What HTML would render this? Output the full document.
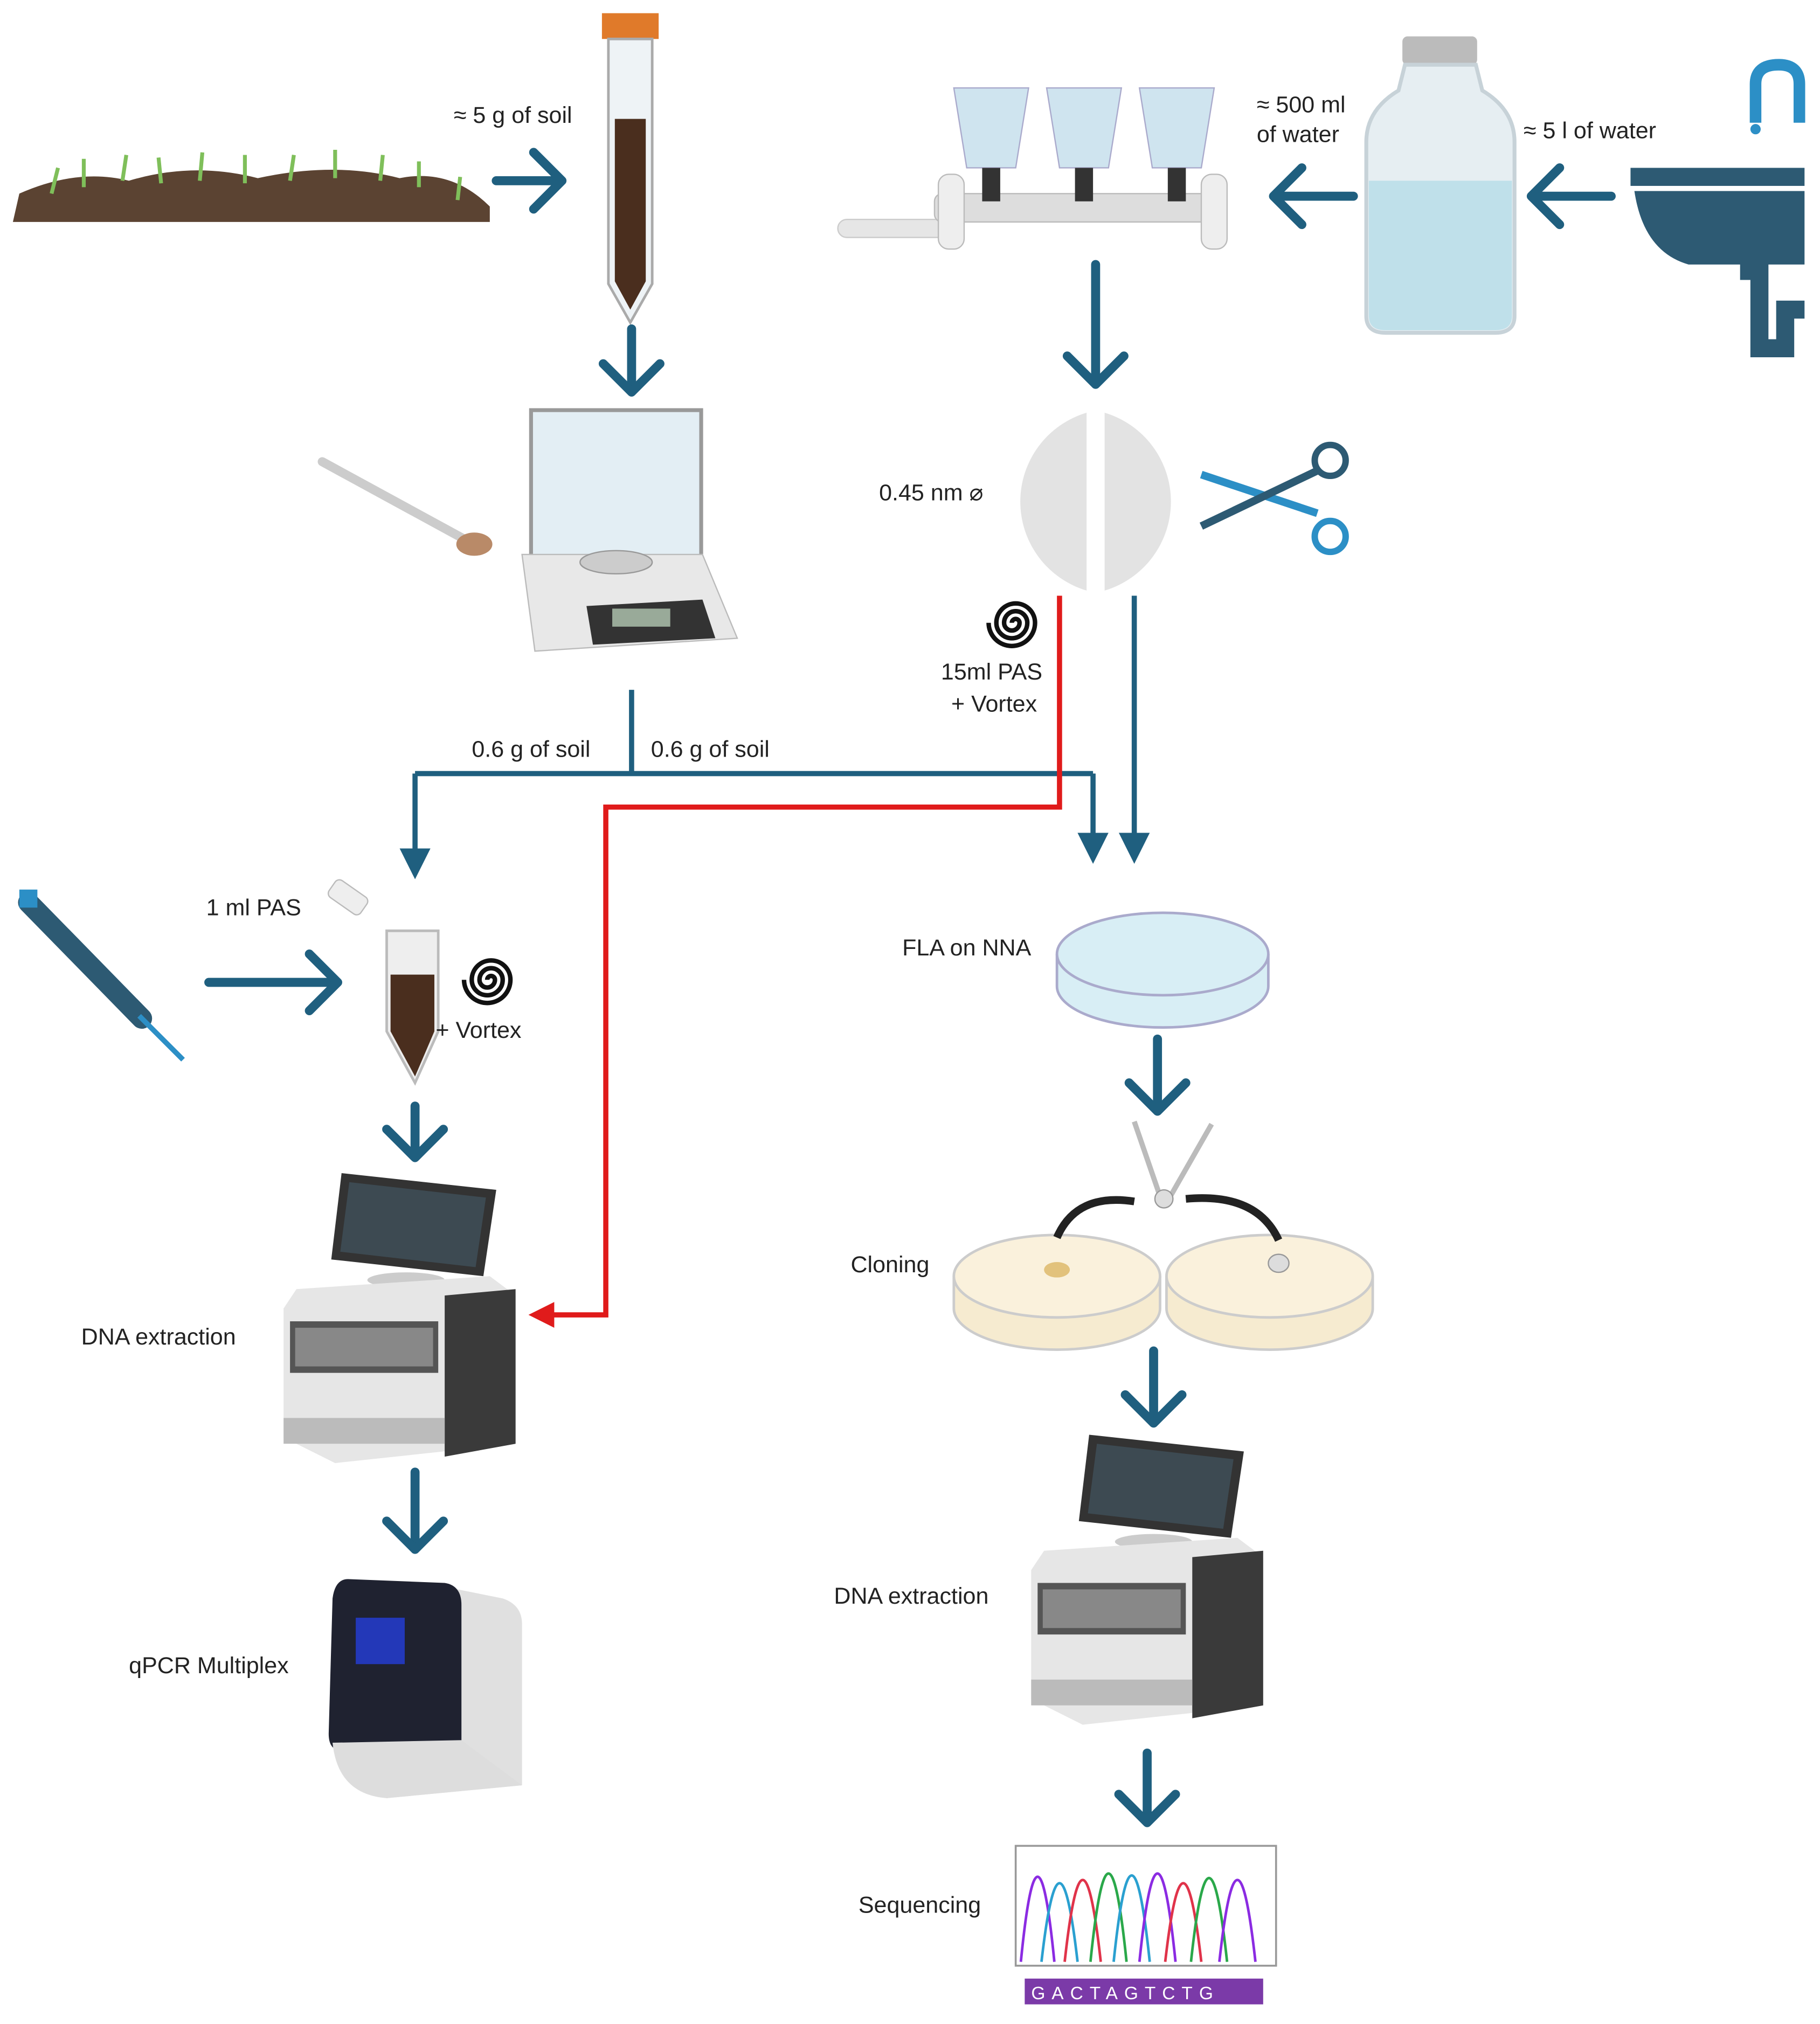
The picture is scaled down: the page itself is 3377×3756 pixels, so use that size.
<!DOCTYPE html>
<html><head><meta charset="utf-8"><style>
html,body{margin:0;padding:0;background:#fff;}
svg{display:block;}
text{font-family:"Liberation Sans",sans-serif;font-size:18px;fill:#222;}
</style></head><body>
<svg width="3377" height="3756" viewBox="0 0 1412 1570" xmlns="http://www.w3.org/2000/svg">
<defs>
<marker id="tb" markerWidth="6" markerHeight="6" refX="5" refY="3" orient="auto" markerUnits="strokeWidth"><path d="M0,0 L6,3 L0,6 z" fill="#1f5f7f"/></marker>
<marker id="tr" markerWidth="5" markerHeight="5" refX="4" refY="2.5" orient="auto" markerUnits="strokeWidth"><path d="M0,0 L5,2.5 L0,5 z" fill="#e01b1b"/></marker>
<g id="machine">
<polygon points="50,5 170,18 160,85 42,72" fill="#333"/>
<polygon points="56,12 162,24 154,78 49,66" fill="#3d4a52"/>
<ellipse cx="100" cy="88" rx="30" ry="6" fill="#ccc"/>
<path d="M15,95 L165,85 L185,100 L185,215 L45,230 L5,210 L5,110 z" fill="#e6e6e6"/>
<path d="M130,100 L185,95 L185,215 L130,225 z" fill="#3a3a3a"/>
<rect x="10" y="120" width="115" height="40" fill="#555"/>
<rect x="14" y="125" width="107" height="30" fill="#888"/>
<rect x="5" y="195" width="125" height="20" fill="#bbb"/>
</g>
<g id="chev"><polyline points="-22,-22 0,0 22,-22" fill="none" stroke="#1f5f7f" stroke-width="7" stroke-linecap="round" stroke-linejoin="round"/></g>
</defs>

<path d="M10,172 L15,150 Q60,130 100,140 Q150,125 200,138 Q260,125 310,138 Q350,130 380,160 L380,172 z" fill="#5b4332"/>
<g stroke="#7fbf5a" stroke-width="3" fill="none">
<path d="M40,150 l5,-20 M65,145 l0,-22 M95,140 l3,-20 M125,142 l-2,-20 M155,140 l2,-22 M190,142 l0,-22 M225,140 l3,-20 M260,138 l0,-22 M295,140 l2,-20 M325,145 l0,-20 M355,155 l2,-18"/>
</g>
<text x="352" y="95">≈ 5 g of soil</text>
<line x1="385" y1="140" x2="432" y2="140" stroke="#1f5f7f" stroke-width="7" stroke-linecap="round"/>
<use href="#chev" transform="translate(436,140) rotate(-90)"/>
<rect x="467" y="10" width="44" height="20" fill="#e07a2a"/>
<path d="M472,30 L506,30 L506,220 L489,250 L472,220 z" fill="#eef3f6" stroke="#aaa" stroke-width="2"/>
<path d="M477,92 L501,92 L501,218 L489,240 L477,218 z" fill="#4a2e1e"/>
<line x1="490" y1="255" x2="490" y2="302" stroke="#1f5f7f" stroke-width="7" stroke-linecap="round"/>
<use href="#chev" transform="translate(490,304)"/>
<line x1="250" y1="358" x2="360" y2="418" stroke="#ccc" stroke-width="7" stroke-linecap="round"/>
<ellipse cx="368" cy="422" rx="14" ry="9" fill="#b98a68"/>
<rect x="412" y="318" width="132" height="120" fill="#e3eef4" stroke="#999" stroke-width="3"/>
<path d="M405,430 L545,430 L572,495 L415,505 z" fill="#e8e8e8" stroke="#bbb"/>
<ellipse cx="478" cy="436" rx="28" ry="9" fill="#ccc" stroke="#999"/>
<polygon points="455,470 545,465 555,495 460,500" fill="#333"/>
<rect x="475" y="472" width="45" height="14" fill="#9a9"/>
<polyline points="490,535 490,600" fill="none" stroke="#1f5f7f" stroke-width="4"/>
<polyline points="322,600 848,600" fill="none" stroke="#1f5f7f" stroke-width="4"/>
<line x1="322" y1="600" x2="322" y2="678" stroke="#1f5f7f" stroke-width="4" marker-end="url(#tb)"/>
<line x1="848" y1="600" x2="848" y2="666" stroke="#1f5f7f" stroke-width="4" marker-end="url(#tb)"/>
<line x1="880" y1="462" x2="880" y2="666" stroke="#1f5f7f" stroke-width="4" marker-end="url(#tb)"/>
<text x="366" y="587">0.6 g of soil</text>
<text x="505" y="587">0.6 g of soil</text>
<polyline points="822,462 822,626 470,626 470,1020 425,1020" fill="none" stroke="#e01b1b" stroke-width="4"/>
<line x1="430" y1="1020" x2="414" y2="1020" stroke="#e01b1b" stroke-width="4" marker-end="url(#tr)"/>
<rect x="650" y="170" width="85" height="14" rx="7" fill="#e6e6e6" stroke="#ccc"/>
<rect x="725" y="150" width="225" height="22" rx="6" fill="#ddd" stroke="#bbb"/>
<rect x="728" y="135" width="20" height="58" rx="8" fill="#eee" stroke="#bbb"/>
<rect x="932" y="135" width="20" height="58" rx="8" fill="#eee" stroke="#bbb"/>
<g fill="#cfe4ef" stroke="#aac">
<path d="M740,68 L798,68 L788,130 L750,130 z"/><path d="M812,68 L870,68 L860,130 L822,130 z"/><path d="M884,68 L942,68 L932,130 L894,130 z"/>
</g>
<rect x="762" y="130" width="14" height="26" fill="#333"/><rect x="834" y="130" width="14" height="26" fill="#333"/><rect x="906" y="130" width="14" height="26" fill="#333"/>
<text x="975" y="87">≈ 500 ml</text><text x="975" y="110">of water</text>
<line x1="1050" y1="152" x2="992" y2="152" stroke="#1f5f7f" stroke-width="7" stroke-linecap="round"/>
<use href="#chev" transform="translate(988,152) rotate(90)"/>
<rect x="1088" y="28" width="58" height="22" rx="4" fill="#bbb"/>
<path d="M1090,50 L1145,50 L1150,70 Q1175,85 1175,110 L1175,245 Q1175,258 1160,258 L1075,258 Q1060,258 1060,245 L1060,110 Q1060,85 1085,70 z" fill="#e6eef2" stroke="#c7d2d8" stroke-width="3"/>
<path d="M1062,140 L1173,140 L1173,245 Q1173,256 1160,256 L1075,256 Q1062,256 1062,245 z" fill="#bfe0ea"/>
<text x="1182" y="107">≈ 5 l of water</text>
<line x1="1250" y1="152" x2="1192" y2="152" stroke="#1f5f7f" stroke-width="7" stroke-linecap="round"/>
<use href="#chev" transform="translate(1188,152) rotate(90)"/>
<path d="M1362,95 L1362,65 Q1362,50 1380,50 Q1396,50 1396,65 L1396,95" fill="none" stroke="#2c8fc6" stroke-width="9"/>
<circle cx="1362" cy="100" r="4" fill="#2c8fc6"/>
<rect x="1265" y="130" width="135" height="14" fill="#2d5a73"/>
<path d="M1268,148 L1400,148 L1400,205 L1310,205 Q1275,195 1268,148 z" fill="#2d5a73"/>
<path d="M1350,210 L1365,210 L1365,270 L1385,270 L1385,240 L1400,240" fill="none" stroke="#2d5a73" stroke-width="14"/>
<line x1="850" y1="205" x2="850" y2="296" stroke="#1f5f7f" stroke-width="7" stroke-linecap="round"/>
<use href="#chev" transform="translate(850,298)"/>
<path d="M843,320 A72,72 0 0 0 843,458 z" fill="#e3e3e3"/>
<path d="M857,320 A72,72 0 0 1 857,458 z" fill="#e3e3e3"/>
<text x="682" y="388">0.45 nm ⌀</text>
<line x1="932" y1="368" x2="1022" y2="398" stroke="#2c8fc6" stroke-width="6"/>
<line x1="932" y1="408" x2="1022" y2="365" stroke="#2d5a73" stroke-width="6"/>
<circle cx="1032" cy="357" r="12" fill="none" stroke="#2d5a73" stroke-width="5"/>
<circle cx="1032" cy="416" r="12" fill="none" stroke="#2c8fc6" stroke-width="5"/>
<path d="M785,483 m0,0 a3,3 0 0 1 6,0 a6,6 0 0 1 -12,0 a9,9 0 0 1 18,0 a12,12 0 0 1 -24,0 a15,15 0 0 1 30,0 a18,18 0 0 1 -36,0" fill="none" stroke="#111" stroke-width="3.5"/>
<text x="730" y="527">15ml PAS</text><text x="738" y="552">+ Vortex</text>
<line x1="22" y1="700" x2="110" y2="790" stroke="#2d5a73" stroke-width="16" stroke-linecap="round"/>
<line x1="108" y1="788" x2="142" y2="822" stroke="#2c8fc6" stroke-width="4"/>
<rect x="15" y="690" width="14" height="14" fill="#2c8fc6"/>
<text x="160" y="710">1 ml PAS</text>
<line x1="162" y1="762" x2="258" y2="762" stroke="#1f5f7f" stroke-width="7" stroke-linecap="round"/>
<use href="#chev" transform="translate(262,762) rotate(-90)"/>
<rect x="255" y="688" width="30" height="16" rx="4" transform="rotate(35 270 696)" fill="#eee" stroke="#bbb"/>
<path d="M300,722 L340,722 L340,800 L322,840 L300,800 z" fill="#eee" stroke="#bbb" stroke-width="2"/>
<path d="M303,756 L337,756 L337,800 L322,835 L303,800 z" fill="#4a2e1e"/>
<path d="M378,760 m0,0 a3,3 0 0 1 6,0 a6,6 0 0 1 -12,0 a9,9 0 0 1 18,0 a12,12 0 0 1 -24,0 a15,15 0 0 1 30,0 a18,18 0 0 1 -36,0" fill="none" stroke="#111" stroke-width="3.5"/>
<text x="338" y="805">+ Vortex</text>
<line x1="322" y1="858" x2="322" y2="896" stroke="#1f5f7f" stroke-width="7" stroke-linecap="round"/>
<use href="#chev" transform="translate(322,898)"/>
<use href="#machine" transform="translate(215,905)"/>
<text x="63" y="1043">DNA extraction</text>
<line x1="322" y1="1142" x2="322" y2="1200" stroke="#1f5f7f" stroke-width="7" stroke-linecap="round"/>
<use href="#chev" transform="translate(322,1202)"/>
<path d="M330,1228 L390,1240 Q405,1245 405,1260 L405,1385 L300,1395 z" fill="#e0e0e0"/>
<path d="M270,1225 L345,1228 Q358,1230 358,1245 L358,1355 L265,1358 Q255,1358 255,1345 L258,1240 Q260,1225 270,1225 z" fill="#1f2230"/>
<rect x="276" y="1255" width="38" height="36" fill="#2338b8"/>
<path d="M258,1352 L358,1350 L405,1385 L300,1395 Q262,1392 258,1352 z" fill="#ddd"/>
<text x="100" y="1298">qPCR Multiplex</text>
<path d="M820,740 L820,765 A82,32 0 0 0 984,765 L984,740" fill="#d8eef5" stroke="#aac" stroke-width="2"/>
<ellipse cx="902" cy="740" rx="82" ry="32" fill="#d8eef5" stroke="#aac" stroke-width="2"/>
<text x="700" y="741">FLA on NNA</text>
<line x1="898" y1="806" x2="898" y2="860" stroke="#1f5f7f" stroke-width="7" stroke-linecap="round"/>
<use href="#chev" transform="translate(898,862)"/>
<path d="M740,990 L740,1015 A80,32 0 0 0 900,1015 L900,990" fill="#f6ebd0" stroke="#ccc" stroke-width="2"/>
<ellipse cx="820" cy="990" rx="80" ry="32" fill="#faf1dc" stroke="#ccc" stroke-width="2"/>
<path d="M905,990 L905,1015 A80,32 0 0 0 1065,1015 L1065,990" fill="#f6ebd0" stroke="#ccc" stroke-width="2"/>
<ellipse cx="985" cy="990" rx="80" ry="32" fill="#faf1dc" stroke="#ccc" stroke-width="2"/>
<ellipse cx="820" cy="985" rx="10" ry="6" fill="#e2c27c"/>
<ellipse cx="992" cy="980" rx="8" ry="7" fill="#ddd" stroke="#999"/>
<path d="M820,960 Q835,925 880,932" fill="none" stroke="#222" stroke-width="6"/>
<path d="M920,930 Q975,925 992,962" fill="none" stroke="#222" stroke-width="6"/>
<line x1="880" y1="870" x2="900" y2="928" stroke="#bbb" stroke-width="4"/>
<line x1="940" y1="872" x2="908" y2="928" stroke="#bbb" stroke-width="4"/>
<circle cx="903" cy="930" r="7" fill="#ddd" stroke="#999"/>
<text x="660" y="987">Cloning</text>
<line x1="895" y1="1048" x2="895" y2="1102" stroke="#1f5f7f" stroke-width="7" stroke-linecap="round"/>
<use href="#chev" transform="translate(895,1104)"/>
<use href="#machine" transform="translate(795,1108)"/>
<text x="647" y="1244">DNA extraction</text>
<line x1="890" y1="1360" x2="890" y2="1412" stroke="#1f5f7f" stroke-width="7" stroke-linecap="round"/>
<use href="#chev" transform="translate(890,1414)"/>
<rect x="788" y="1432" width="202" height="93" fill="#fff" stroke="#999" stroke-width="1.5"/>
<g fill="none" stroke-width="2">
<path d="M792,1522 Q805,1390 818,1522" stroke="#8b2be2"/>
<path d="M808,1522 Q822,1400 836,1522" stroke="#2aa0d0"/>
<path d="M826,1522 Q840,1395 854,1522" stroke="#e0334a"/>
<path d="M846,1522 Q860,1385 874,1522" stroke="#2aa84a"/>
<path d="M864,1522 Q878,1388 892,1522" stroke="#2aa0d0"/>
<path d="M884,1522 Q898,1385 912,1522" stroke="#8b2be2"/>
<path d="M904,1522 Q918,1400 932,1522" stroke="#e0334a"/>
<path d="M924,1522 Q938,1392 952,1522" stroke="#2aa84a"/>
<path d="M946,1522 Q960,1395 974,1522" stroke="#8b2be2"/>
</g>
<text x="666" y="1484">Sequencing</text>
<rect x="795" y="1535" width="185" height="20" fill="#7b3aa8"/>
<text x="800" y="1551" style="font-size:14px;fill:#fff;letter-spacing:5px">GACTAGTCTG</text>
</svg>
</body></html>
